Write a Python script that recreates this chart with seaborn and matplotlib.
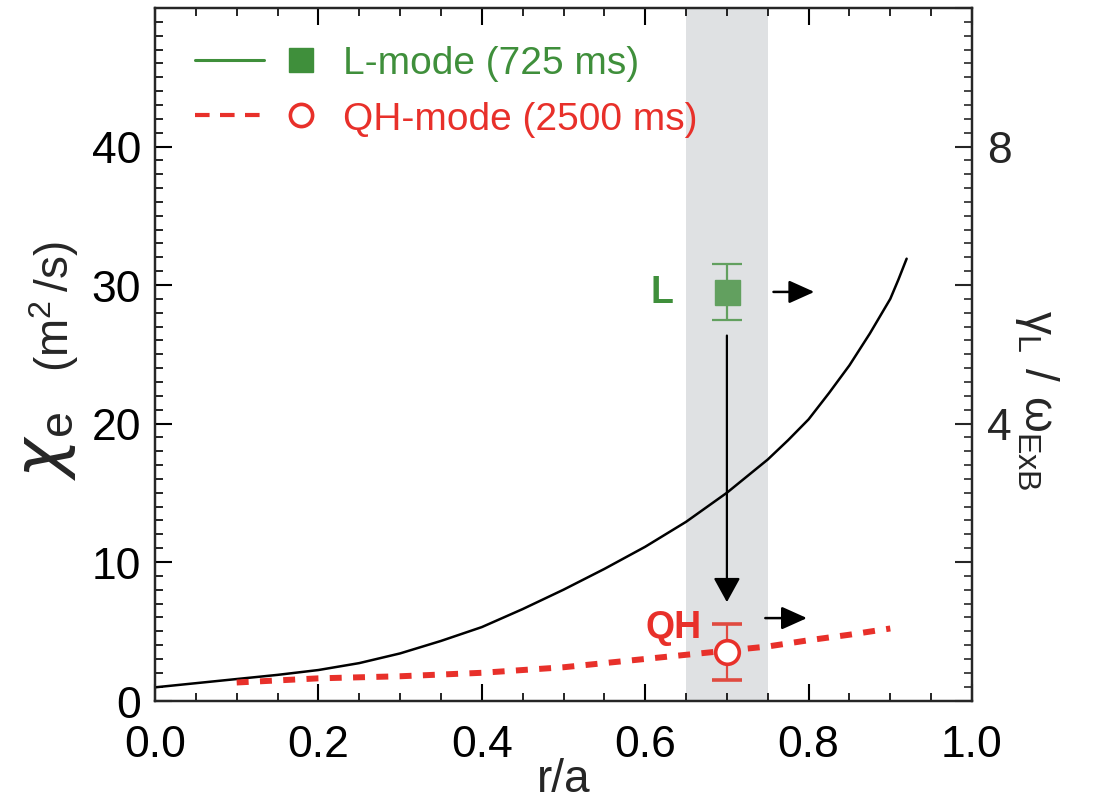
import numpy as np
import pandas as pd
import matplotlib
matplotlib.use("Agg")
import matplotlib.pyplot as plt
import seaborn as sns
from matplotlib.lines import Line2D
from matplotlib.legend_handler import HandlerTuple
from matplotlib.ticker import MultipleLocator, FormatStrFormatter

# ---------------- data ----------------
r_L = [0.0, 0.05, 0.1, 0.15, 0.2, 0.25, 0.3, 0.35, 0.4, 0.45, 0.5, 0.55, 0.6,
       0.65, 0.7, 0.75, 0.775, 0.8, 0.825, 0.85, 0.875, 0.9, 0.91, 0.92]
chi_L = [0.95, 1.25, 1.55, 1.85, 2.2, 2.7, 3.4, 4.3, 5.3, 6.6, 8.0, 9.5, 11.1,
         12.9, 15.0, 17.4, 18.8, 20.3, 22.2, 24.2, 26.5, 29.0, 30.4, 31.9]

r_QH = [0.1, 0.2, 0.3, 0.4, 0.5, 0.6, 0.7, 0.75, 0.8, 0.85, 0.9]
chi_QH = [1.3, 1.6, 1.75, 2.0, 2.4, 3.0, 3.6, 3.9, 4.35, 4.75, 5.2]

# growth-rate ratio at r/a = 0.7 (right axis)
r_point = [0.7, 0.7]
gamma_ratio = [5.9, 0.7]
gamma_err = [0.4, 0.4]
point_labels = ["L", "QH"]

legend_labels = ["L-mode (725 ms)", "QH-mode (2500 ms)"]
band = (0.65, 0.75)

# ---------------- style ----------------
sns.set_style("ticks")
plt.rcParams["font.family"] = ["Liberation Sans", "DejaVu Sans"]
plt.rcParams["mathtext.fontset"] = "dejavusans"

GREEN = "#3f8f3b"
GREEN_PT = "#62a05f"
RED = "#e8302a"
BAND = "#dfe1e3"
TICK_FS = 32

fig = plt.figure(figsize=(11.02, 8.03), dpi=100)
ax = fig.add_axes([155 / 1102, 1 - 701.5 / 803, 817 / 1102, 692.5 / 803])

ax.axvspan(*band, color=BAND, zorder=0, lw=0)

df_L = pd.DataFrame({"r": r_L, "chi": chi_L})
df_QH = pd.DataFrame({"r": r_QH, "chi": chi_QH})
sns.lineplot(data=df_L, x="r", y="chi", ax=ax, color="black", lw=1.8, sort=False)
sns.lineplot(data=df_QH, x="r", y="chi", ax=ax, color=RED, lw=4.3, sort=False)
ax.lines[-1].set_dashes((2.0, 1.9))

ax.set_xlim(0, 1.0)
ax.set_ylim(0, 50)
ax.set_xticks(np.arange(0, 1.01, 0.2))
ax.xaxis.set_major_formatter(FormatStrFormatter("%.1f"))
ax.set_yticks([0, 10, 20, 30, 40])
ax.xaxis.set_minor_locator(MultipleLocator(0.05))
ax.yaxis.set_minor_locator(MultipleLocator(1))
ax.tick_params(which="both", direction="in", top=True, right=False,
               labelsize=TICK_FS, width=1.5, color="black", labelcolor="black")
ax.tick_params(which="major", length=12)
ax.tick_params(axis="y", which="major", pad=10)
ax.tick_params(axis="x", which="major", pad=17)
ax.tick_params(which="minor", length=6, width=1.2)
ax.set_xlabel("r/a", fontsize=TICK_FS + 1, labelpad=-6)
ax.set_ylabel("")
for s in ax.spines.values():
    s.set_linewidth(1.6)
    s.set_color("black")

# ---------------- right axis ----------------
ax2 = ax.twinx()
ax2.set_ylim(0, 10)
ax2.set_yticks([0, 2, 4, 6, 8, 10], labels=["", "", "4", "", "8", ""])
ax2.yaxis.set_minor_locator(MultipleLocator(0.2))
ax2.tick_params(which="both", direction="in", labelsize=TICK_FS, width=1.5)
ax2.tick_params(which="major", length=12, pad=11)
ax2.tick_params(which="minor", length=6, width=1.2)
for s in ax2.spines.values():
    s.set_linewidth(1.6)

ax2.errorbar([r_point[0]], [gamma_ratio[0]], yerr=[gamma_err[0]], fmt="s", ms=18,
             color=GREEN_PT, mec=GREEN_PT, ecolor=GREEN_PT, elinewidth=1.6,
             capsize=10.5, capthick=1.6, zorder=5)
ax2.errorbar([r_point[1]], [gamma_ratio[1]], yerr=[gamma_err[1]], fmt="o", ms=17,
             mfc="white", mec=RED, mew=2.6, ecolor="#e04a40", elinewidth=1.6,
             capsize=10.5, capthick=1.6, zorder=5)

arrow_h = dict(arrowstyle="-|>,head_length=0.6,head_width=0.27", color="black",
               lw=1.8, mutation_scale=26, shrinkA=0, shrinkB=0)
arrow_v = dict(arrowstyle="-|>,head_length=0.6,head_width=0.33", color="black",
               lw=1.6, mutation_scale=25, shrinkA=0, shrinkB=0)
ax2.annotate("", xy=(0.807, gamma_ratio[0]), xytext=(0.757, gamma_ratio[0]),
             arrowprops=arrow_h)
ax2.annotate("", xy=(0.798, 1.19), xytext=(0.747, 1.19), arrowprops=arrow_h)
ax2.annotate("", xy=(0.7, 1.42), xytext=(0.7, 5.27), arrowprops=arrow_v)

ax2.text(0.634, gamma_ratio[0], point_labels[0], ha="right", va="center",
         color=GREEN, fontsize=27, fontweight="bold")
ax2.text(0.669, 1.06, point_labels[1], ha="right", va="center",
         color=RED, fontsize=27, fontweight="bold")

# ---------------- legend ----------------
h1 = (Line2D([], [], color=GREEN, lw=2.2),
      Line2D([], [], marker="s", ls="none", color=GREEN, ms=17))
h2 = (Line2D([], [], color=RED, lw=3, ls=(0, (3.5, 2.5))),
      Line2D([], [], marker="o", ls="none", mfc="white", mec=RED, mew=2.6, ms=16))
leg = ax.legend([h1, h2], legend_labels,
                handler_map={tuple: HandlerTuple(ndivide=2, pad=0.05)},
                loc="upper left", bbox_to_anchor=(0.049, 0.946), frameon=False,
                fontsize=28, handlelength=3.6, handletextpad=0.2,
                borderpad=0, borderaxespad=0, labelspacing=0.5)
for t, c in zip(leg.get_texts(), [GREEN, RED]):
    t.set_color(c)

# ---------------- axis titles ----------------
fig.text(0.043, 0.445, r"$\chi_{\mathregular{e}}$", rotation=90, ha="center",
         va="center", fontsize=48)
fig.text(0.049, 0.618, r"$\mathregular{(m^2\,/s)}$", rotation=90, ha="center",
         va="center", fontsize=33)
fig.text(0.941, 0.502, r"$\mathregular{γ_L\ /\ ω_{ExB}}$", rotation=270,
         ha="center", va="center", fontsize=33)

fig.savefig("out.png", dpi=100)
